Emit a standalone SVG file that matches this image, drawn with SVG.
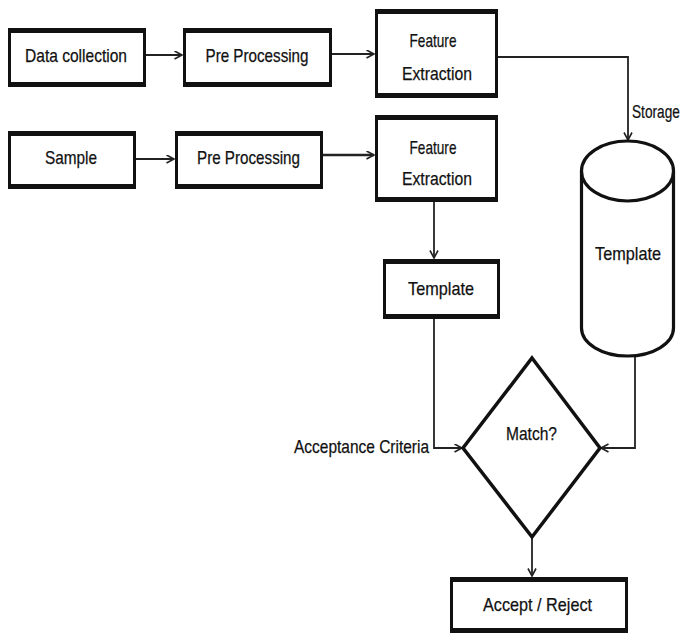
<svg xmlns="http://www.w3.org/2000/svg" width="689" height="636" viewBox="0 0 689 636">
  <style>
    .frame { fill: #fff; stroke: #111; stroke-width: 3; }
    .edge { fill: none; stroke: #111; stroke-width: 5; }
    .shape { fill: #fff; stroke: #111; stroke-width: 3.2; }
    .wire { fill: none; stroke: #222; stroke-width: 1.8; }
    .label { font-family: "Liberation Sans", Arial, sans-serif; font-size: 19px; fill: #111; stroke: #111; stroke-width: 0.25; }
    .mid { text-anchor: middle; }
    .end { text-anchor: end; }
  </style>
  <defs>
    <marker id="arrow" markerUnits="userSpaceOnUse" markerWidth="10" markerHeight="10" refX="8" refY="4.5" orient="auto">
      <path d="M0.5,0.5 L8,4.5 L0.5,8.5" fill="none" stroke="#222" stroke-width="1.6"/>
    </marker>
  </defs>

  <rect width="689" height="636" fill="#fff"/>

  <!-- connectors -->
  <g id="connectors">
    <path class="wire" d="M146,55 H182" marker-end="url(#arrow)"/>
    <path class="wire" d="M332,54 H374" marker-end="url(#arrow)"/>
    <path class="wire" d="M498,57 H628 V140" marker-end="url(#arrow)"/>
    <path class="wire" d="M136,159 H174" marker-end="url(#arrow)"/>
    <path class="wire" d="M323,155 H374" style="stroke-width:2.6" marker-end="url(#arrow)"/>
    <path class="wire" d="M434,202 V258" marker-end="url(#arrow)"/>
    <path class="wire" d="M434,319 V448 H462" marker-end="url(#arrow)"/>
    <path class="wire" d="M635,357 V448 H601" marker-end="url(#arrow)"/>
    <path class="wire" d="M532,537 V576" marker-end="url(#arrow)"/>
    <text class="label" transform="translate(632,118) scale(0.72,1)" x="0" y="0">Storage</text>
    <text class="label end" x="429" y="453" textLength="135" lengthAdjust="spacingAndGlyphs">Acceptance Criteria</text>
  </g>

  <!-- enrollment row -->
  <g id="data-collection">
    <rect class="frame" x="9.5" y="30.5" width="135" height="54"/>
    <path class="edge" d="M8,30.5 H146 M8,84.5 H146"/>
    <text class="label mid" x="76" y="62" textLength="102" lengthAdjust="spacingAndGlyphs">Data collection</text>
  </g>
  <g id="pre-processing-1">
    <rect class="frame" x="184.5" y="30.5" width="146" height="54"/>
    <path class="edge" d="M183,30.5 H332 M183,84.5 H332"/>
    <text class="label mid" x="257" y="62" textLength="103" lengthAdjust="spacingAndGlyphs">Pre Processing</text>
  </g>
  <g id="feature-extraction-1">
    <rect class="frame" x="376.5" y="11.5" width="120" height="84"/>
    <path class="edge" d="M375,11.5 H498 M375,95.5 H498"/>
    <text class="label mid" x="433" y="47" textLength="47" lengthAdjust="spacingAndGlyphs">Feature</text>
    <text class="label mid" x="437" y="80" textLength="70" lengthAdjust="spacingAndGlyphs">Extraction</text>
  </g>

  <!-- verification row -->
  <g id="sample">
    <rect class="frame" x="9.5" y="133.5" width="125" height="53"/>
    <path class="edge" d="M8,133.5 H136 M8,186.5 H136"/>
    <text class="label mid" x="71" y="164" textLength="52" lengthAdjust="spacingAndGlyphs">Sample</text>
  </g>
  <g id="pre-processing-2">
    <rect class="frame" x="176.5" y="133.5" width="145" height="53"/>
    <path class="edge" d="M175,133.5 H323 M175,186.5 H323"/>
    <text class="label mid" x="248.5" y="164" textLength="103" lengthAdjust="spacingAndGlyphs">Pre Processing</text>
  </g>
  <g id="feature-extraction-2">
    <rect class="frame" x="376.5" y="117.5" width="120" height="82"/>
    <path class="edge" d="M375,117.5 H498 M375,199.5 H498"/>
    <text class="label mid" x="433" y="154" textLength="47" lengthAdjust="spacingAndGlyphs">Feature</text>
    <text class="label mid" x="437" y="185" textLength="70" lengthAdjust="spacingAndGlyphs">Extraction</text>
  </g>
  <g id="template-sample">
    <rect class="frame" x="384.5" y="261.5" width="114" height="55"/>
    <path class="edge" d="M383,261.5 H500 M383,316.5 H500"/>
    <text class="label mid" x="441" y="295" textLength="66" lengthAdjust="spacingAndGlyphs">Template</text>
  </g>

  <!-- stored template database -->
  <g id="template-store">
    <path class="shape" d="M581.5,171 V328 A46,28 0 0 0 673.5,328 V171"/>
    <ellipse class="shape" cx="627.5" cy="171" rx="46" ry="30"/>
    <text class="label mid" x="628" y="260" textLength="66" lengthAdjust="spacingAndGlyphs">Template</text>
  </g>

  <!-- decision -->
  <g id="match">
    <polygon class="shape" points="532,358 600,448 532,537 463,448" style="stroke-width:3.5"/>
    <text class="label mid" x="531.5" y="440" textLength="51" lengthAdjust="spacingAndGlyphs">Match?</text>
  </g>
  <g id="accept-reject">
    <rect class="frame" x="451.5" y="579.5" width="175" height="51"/>
    <path class="edge" d="M450,579.5 H628 M450,630.5 H628"/>
    <text class="label mid" x="537.5" y="611" textLength="109" lengthAdjust="spacingAndGlyphs">Accept / Reject</text>
  </g>
</svg>
